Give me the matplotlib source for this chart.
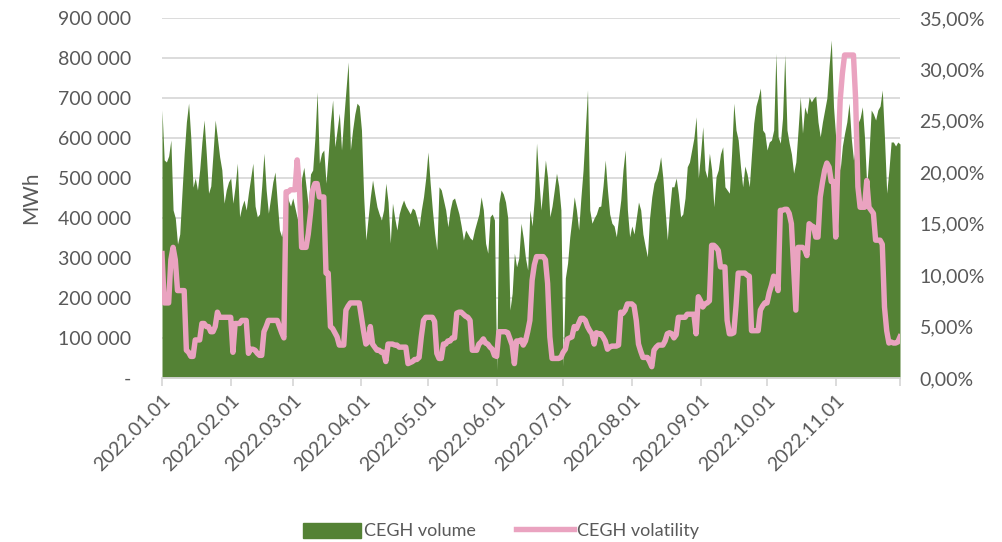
import matplotlib
matplotlib.use("Agg")
import matplotlib.pyplot as plt
import matplotlib.ticker as mticker
import numpy as np
import pandas as pd
from matplotlib.lines import Line2D
from matplotlib.patches import Patch

# daily CEGH traded volume, thousand MWh
vol_jan = [670, 545, 540, 555, 595, 420, 400, 335, 360, 462, 560, 640, 687, 600, 477, 500,
           470, 520, 590, 645, 560, 462, 480, 560, 645, 600, 553, 520, 437, 470, 490]
vol_feb = [500, 437, 480, 537, 403, 428, 445, 420, 463, 500, 537, 430, 403, 410, 480, 562,
           470, 412, 450, 490, 515, 440, 370, 353, 400, 470, 445, 430]
vol_mar = [450, 425, 400, 387, 500, 527, 478, 428, 510, 520, 600, 715, 537, 562, 570, 487,
           560, 640, 695, 578, 620, 662, 570, 650, 720, 790, 570, 620, 660, 687, 680]
vol_apr = [620, 453, 345, 400, 453, 495, 460, 428, 410, 395, 420, 487, 440, 337, 437, 400,
           370, 410, 430, 445, 430, 420, 410, 425, 420, 400, 378, 420, 453, 500]
vol_may = [565, 487, 420, 362, 320, 478, 470, 445, 420, 378, 420, 445, 450, 430, 410, 380,
           345, 370, 360, 350, 345, 370, 390, 410, 453, 420, 337, 312, 403, 410, 395]
vol_jun = [20, 437, 470, 460, 440, 400, 170, 212, 312, 278, 300, 387, 350, 300, 270, 420,
           380, 450, 587, 500, 420, 480, 545, 500, 403, 430, 470, 512, 480, 420]
vol_jul = [30, 250, 287, 353, 400, 453, 420, 370, 450, 520, 620, 720, 420, 387, 400, 410,
           428, 430, 480, 545, 470, 410, 387, 380, 353, 400, 445, 520, 570, 420, 353]
vol_aug = [380, 360, 400, 440, 420, 360, 330, 303, 400, 453, 487, 500, 520, 553, 500, 420,
           345, 420, 478, 478, 500, 460, 403, 410, 450, 528, 540, 570, 600, 653, 500]
vol_sep = [560, 628, 520, 500, 562, 520, 428, 503, 520, 560, 578, 478, 470, 462, 560, 687,
           620, 595, 530, 478, 530, 510, 478, 560, 637, 680, 700, 725, 620, 612]
vol_oct = [570, 590, 595, 620, 812, 603, 587, 650, 808, 620, 587, 560, 512, 540, 620, 703,
           612, 678, 660, 703, 690, 700, 705, 640, 603, 640, 670, 700, 780, 845, 678]
vol_nov = [600, 578, 520, 580, 612, 640, 687, 600, 545, 580, 637, 650, 678, 600, 478, 560,
           670, 660, 645, 670, 680, 720, 600, 462, 520, 590, 590, 580, 590, 585]

# daily CEGH volatility, percent
vola_jan = [12.1, 7.3, 7.3, 7.3, 11.5, 12.7, 11.5, 8.5, 8.5, 8.5, 8.5, 2.7, 2.5, 2.1, 2.1, 3.7,
            3.7, 3.7, 5.3, 5.3, 5.0, 5.0, 4.5, 4.5, 5.0, 6.4, 5.9, 5.9, 5.9, 5.9, 5.9]
vola_feb = [5.9, 2.5, 5.3, 5.3, 5.3, 5.6, 5.6, 5.6, 2.4, 2.8, 2.8, 2.7, 2.4, 2.2, 2.2, 4.5,
            5.0, 5.6, 5.6, 5.6, 5.6, 5.6, 5.0, 4.4, 3.9, 18.1, 18.1, 18.3]
vola_mar = [18.3, 18.3, 21.2, 18.5, 12.7, 12.7, 12.7, 14.0, 16.0, 18.3, 18.9, 18.9, 17.6, 17.6,
            17.6, 10.2, 10.2, 5.0, 4.8, 4.4, 4.0, 3.2, 3.2, 3.2, 6.6, 7.0, 7.3, 7.3, 7.3, 7.3, 7.3]
vola_apr = [5.9, 4.5, 3.3, 3.5, 5.0, 3.3, 3.0, 2.7, 2.7, 2.5, 2.5, 1.6, 3.3, 3.3, 3.3, 3.2,
            3.2, 3.0, 3.0, 3.0, 3.0, 1.4, 1.5, 1.6, 1.8, 1.8, 2.0, 4.0, 5.6, 5.9]
vola_may = [5.9, 5.9, 5.9, 5.5, 2.4, 1.9, 1.9, 3.3, 3.3, 3.6, 3.6, 3.9, 3.9, 6.3, 6.4, 6.4,
            6.2, 6.0, 5.9, 5.6, 2.7, 2.7, 2.7, 3.3, 3.5, 3.8, 3.4, 3.3, 3.0, 2.8, 2.2]
vola_jun = [2.1, 4.5, 4.5, 4.5, 4.5, 4.4, 3.8, 3.2, 1.4, 3.6, 3.6, 3.7, 3.2, 3.6, 4.5, 5.6,
            9.5, 11.0, 11.8, 11.8, 11.8, 11.8, 11.5, 9.2, 4.0, 1.9, 1.9, 1.9, 1.9, 2.0]
vola_jul = [2.5, 2.8, 3.8, 3.9, 4.0, 5.0, 4.8, 5.3, 5.8, 5.8, 5.6, 5.0, 4.6, 4.3, 3.3, 4.4,
            4.3, 4.3, 4.0, 3.6, 2.8, 3.0, 3.1, 3.1, 3.1, 3.2, 6.4, 6.3, 6.6, 7.2, 7.2]
vola_aug = [7.2, 7.0, 5.6, 3.3, 2.6, 2.0, 2.0, 2.0, 1.6, 1.1, 2.7, 3.0, 3.2, 3.2, 3.2, 3.6,
            4.3, 4.4, 4.3, 3.9, 4.2, 5.9, 5.9, 5.9, 5.9, 6.2, 6.2, 6.2, 6.2, 4.3, 7.9]
vola_sep = [7.5, 6.9, 7.2, 7.3, 7.5, 12.9, 12.9, 12.7, 12.4, 10.8, 10.8, 10.8, 5.6, 4.3, 4.3,
            4.4, 7.0, 10.2, 10.2, 10.2, 10.2, 10.0, 9.9, 4.6, 4.6, 4.6, 4.6, 6.6, 7.0, 7.3]
vola_oct = [7.3, 8.3, 9.0, 9.9, 9.5, 8.5, 16.3, 16.3, 16.4, 16.4, 16.0, 15.0, 10.8, 6.6, 12.7,
            12.7, 12.7, 12.5, 11.9, 15.0, 14.8, 14.7, 13.7, 13.7, 17.6, 19.0, 20.2, 20.9, 20.5,
            19.1, 19.1]
vola_nov = [13.7, 21.2, 27.0, 29.6, 31.4, 31.4, 31.4, 31.4, 31.4, 27.0, 18.6, 16.6, 16.6, 16.6,
            19.2, 16.6, 16.3, 16.0, 13.4, 13.4, 13.4, 13.0, 6.9, 4.6, 3.4, 3.5, 3.4, 3.4, 3.5, 4.0]

GREEN = "#548235"
PINK = "#eaa3c0"
GRAY = "#595959"
FONT = "Lato"

volume = np.array(vol_jan + vol_feb + vol_mar + vol_apr + vol_may + vol_jun
                  + vol_jul + vol_aug + vol_sep + vol_oct + vol_nov) * 1000
volatility = np.array(vola_jan + vola_feb + vola_mar + vola_apr + vola_may + vola_jun
                      + vola_jul + vola_aug + vola_sep + vola_oct + vola_nov) / 100
dates = pd.date_range("2022-01-01", periods=len(volume), freq="D")

plt.rcParams["font.family"] = [FONT, "DejaVu Sans"]

fig = plt.figure(figsize=(10.02, 5.42), dpi=100)
ax = fig.add_axes([162 / 1002, 1 - 378 / 542, 738 / 1002, 360 / 542])
ax2 = ax.twinx()

ax.fill_between(dates, volume, 0, color=GREEN, lw=0, zorder=2)
ax2.plot(dates, volatility, color=PINK, lw=3.9, solid_joinstyle="round", zorder=3)

ax.set_ylim(0, 900000)
ax2.set_ylim(0, 0.35)
ax.set_xlim(dates[0], dates[-1])
ax.set_yticks(np.arange(0, 900001, 100000))
ax2.set_yticks(np.arange(0, 0.3501, 0.05))


def fmt_mwh(v, _pos):
    if v == 0:
        return "-"
    return f"{int(v):,}".replace(",", " ")


def fmt_pct(v, _pos):
    return f"{v * 100:.2f}%".replace(".", ",")


ax.yaxis.set_major_formatter(mticker.FuncFormatter(fmt_mwh))
ax2.yaxis.set_major_formatter(mticker.FuncFormatter(fmt_pct))

month_starts = pd.date_range("2022-01-01", "2022-11-01", freq="MS")
ticks = list(month_starts) + [dates[-1]]
ax.set_xticks(ticks)
ax.set_xticklabels([d.strftime("%Y.%m.%d") for d in month_starts] + [""],
                   rotation=45, ha="right", rotation_mode="anchor")

ax.grid(axis="y", color="#d9d9d9", lw=1.3, zorder=0)
ax.set_axisbelow(True)
for a in (ax, ax2):
    for s in a.spines.values():
        s.set_visible(False)
ax.spines["bottom"].set_visible(True)
ax.spines["bottom"].set_color("#d9d9d9")
ax.spines["bottom"].set_linewidth(1.3)

ax.tick_params(axis="x", colors="#d9d9d9", length=6, width=1.3, labelcolor=GRAY,
               labelsize=14, pad=4)
ax.tick_params(axis="y", length=0, labelcolor=GRAY, labelsize=14, pad=22)
ax2.tick_params(axis="y", length=0, labelcolor=GRAY, labelsize=14, pad=14)
ax.set_ylabel("MWh", color=GRAY, fontsize=15, labelpad=12)

handles = [Patch(color=GREEN), Line2D([], [], color=PINK, lw=3.9)]
fig.legend(handles, ["CEGH volume", "CEGH volatility"], loc="lower center",
           bbox_to_anchor=(0.5, -0.025), ncol=2, frameon=False, fontsize=13,
           labelcolor=GRAY, handlelength=3.2, handleheight=0.9, columnspacing=2.2,
           handletextpad=0.2)

fig.savefig("out.png", dpi=100, facecolor="white")
